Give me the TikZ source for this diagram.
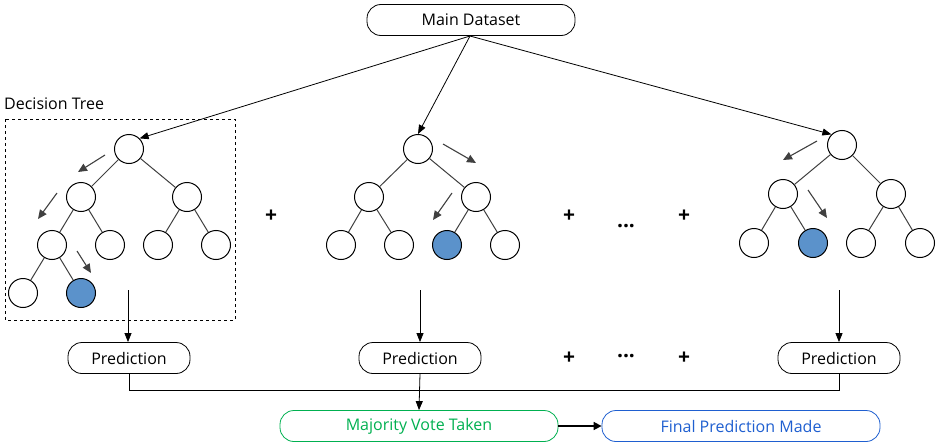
\documentclass[tikz,border=0pt]{standalone}
\usepackage{fontspec}
\setmainfont{Open Sans}
\usetikzlibrary{arrows.meta}
\definecolor{leafblue}{RGB}{91,146,203}
\definecolor{votegreen}{RGB}{0,176,80}
\definecolor{finalblue}{RGB}{31,95,208}
\definecolor{edgegray}{RGB}{64,64,64}
\begin{document}
\begin{tikzpicture}[x=1pt,y=-1pt,
  every node/.style={font=\fontsize{16}{19}\selectfont},
  tn/.style={circle,draw=black,line width=1pt,fill=white,minimum size=29pt,inner sep=0},
  leaf/.style={tn,fill=leafblue},
  ed/.style={draw=edgegray,line width=1pt},
  hint/.style={draw=edgegray,line width=1.1pt,-{Triangle[length=9pt,width=8pt]}},
  arr/.style={draw=black,line width=0.8pt,-{Triangle[length=9pt,width=7pt]}},
  pill/.style={draw=black,line width=0.8pt,rounded corners=14pt,minimum height=31pt,inner sep=0},
  sym/.style={font=\fontsize{21}{22}\selectfont\bfseries}]
\useasboundingbox (0,0) rectangle (943,447);

% Main dataset
\node[pill,minimum width=208pt] (main) at (471,20) {Main Dataset};
\coordinate (src) at (470,36);

% Decision tree box
\draw[dashed,line width=0.8pt] (5,119) rectangle (235,320);
\node[anchor=west,inner sep=0] (dtl) at (4,104) {Decision Tree};

% Tree 1
\node[tn] (a0) at (129,149) {};
\node[tn] (a1) at (81,197) {};
\node[tn] (a2) at (187,197) {};
\node[tn] (a3) at (52,245) {};
\node[tn] (a4) at (110,245) {};
\node[tn] (a5) at (158,245) {};
\node[tn] (a6) at (216,245) {};
\node[tn] (a7) at (23,293) {};
\node[leaf] (a8) at (81,293) {};
\path[ed] (a0)--(a1) (a0)--(a2) (a1)--(a3) (a1)--(a4) (a2)--(a5) (a2)--(a6) (a3)--(a7) (a3)--(a8);
\coordinate (h1s) at (105,155); \coordinate (h1e) at (78,172);
\coordinate (h2s) at (57,193); \coordinate (h2e) at (38,219);
\coordinate (h3s) at (77,251); \coordinate (h3e) at (91,273);
\path[hint] (h1s)--(h1e);
\path[hint] (h2s)--(h2e);
\path[hint] (h3s)--(h3e);

% Tree 2
\node[tn] (b0) at (418,149) {};
\node[tn] (b1) at (369,197) {};
\node[tn] (b2) at (476,197) {};
\node[tn] (b3) at (341,245) {};
\node[tn] (b4) at (399,245) {};
\node[leaf] (b5) at (447,245) {};
\node[tn] (b6) at (505,245) {};
\path[ed] (b0)--(b1) (b0)--(b2) (b1)--(b3) (b1)--(b4) (b2)--(b5) (b2)--(b6);
\coordinate (h4s) at (443,144); \coordinate (h4e) at (476,163);
\coordinate (h5s) at (452,193); \coordinate (h5e) at (433,220);
\path[hint] (h4s)--(h4e);
\path[hint] (h5s)--(h5e);

% Tree 3
\node[tn] (c0) at (842,145) {};
\node[tn] (c1) at (783,194) {};
\node[tn] (c2) at (891,194) {};
\node[tn] (c3) at (754,243) {};
\node[leaf] (c4) at (813,243) {};
\node[tn] (c5) at (861,243) {};
\node[tn] (c6) at (920,243) {};
\path[ed] (c0)--(c1) (c0)--(c2) (c1)--(c3) (c1)--(c4) (c2)--(c5) (c2)--(c6);
\coordinate (h6s) at (817,141); \coordinate (h6e) at (783,160);
\coordinate (h7s) at (808,190); \coordinate (h7e) at (827,218);
\path[hint] (h6s)--(h6e);
\path[hint] (h7s)--(h7e);

% Arrows from main dataset
\draw[arr] (src) -- (a0.north east);
\draw[arr] (src) -- (b0.north);
\draw[arr] (src) -- (c0.north west);

% plus signs between trees
\node[sym] (p1) at (271,216) {+};
\node[sym] (p2) at (569,216) {+};
\node[sym] (d1) at (626,226) {...};
\node[sym] (p3) at (684,216) {+};

% Predictions
\node[pill,minimum width=122pt] (pr1) at (129,358) {Prediction};
\node[pill,minimum width=122pt] (pr2) at (420,358) {Prediction};
\node[pill,minimum width=122pt] (pr3) at (839,358) {Prediction};
\coordinate (t1) at (128,290); \coordinate (t2) at (420,290); \coordinate (t3) at (839,290);
\draw[arr] (t1) -- (pr1.north -| t1);
\draw[arr] (t2) -- (pr2.north);
\draw[arr] (t3) -- (pr3.north);
\node[sym] (p4) at (569,358) {+};
\node[sym] (d2) at (626,356) {...};
\node[sym] (p5) at (684,358) {+};

% Vote
\node[pill,draw=votegreen,text=votegreen,minimum width=278pt] (vote) at (419,426) {Majority Vote Taken};
\node[pill,draw=finalblue,text=finalblue,minimum width=278pt] (final) at (741,426) {Final Prediction Made};
\draw[line width=0.8pt] (pr1.south) -- ++(0,16) -| (pr3.south);
\draw[arr] (pr2.south) -- (vote.north);
\draw[line width=1.6pt,-{Triangle[length=8pt,width=8pt]}] (vote.east) -- (final.west);
\end{tikzpicture}
\end{document}
